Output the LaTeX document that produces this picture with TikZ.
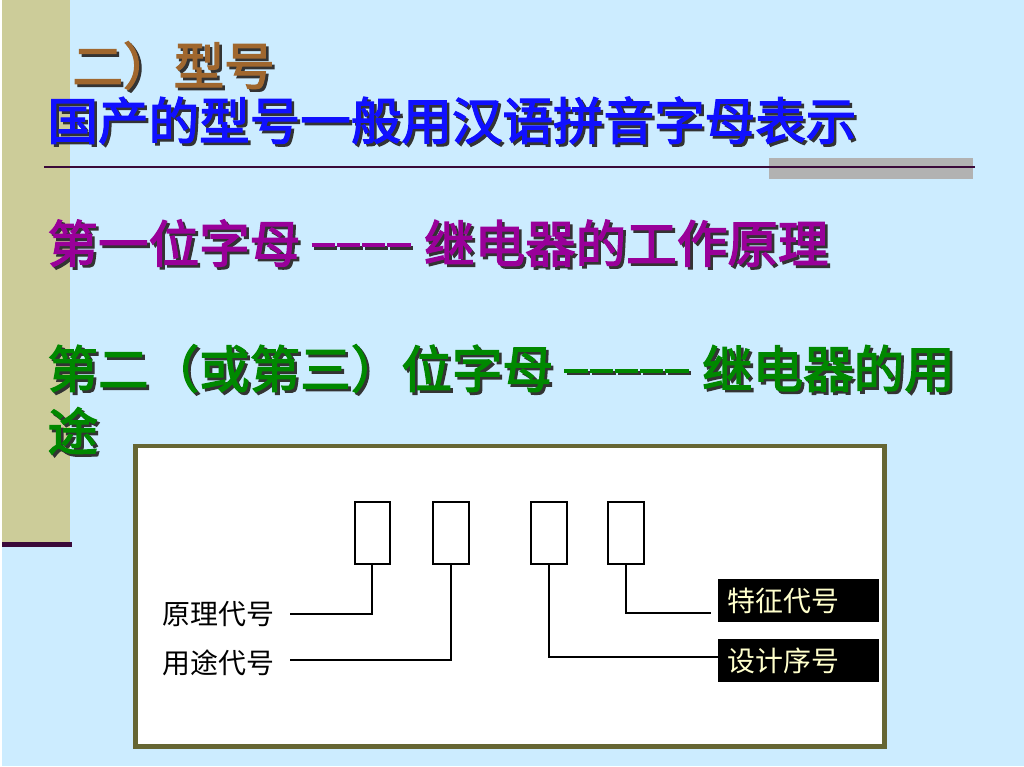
\documentclass[tikz,border=0pt]{standalone}
\usepackage{fontspec}
\newfontfamily\cjk{Noto Sans CJK SC}
\newfontfamily\cjkheavy{Noto Sans CJK SC}[FakeBold=2.5]
\usetikzlibrary{positioning}
\definecolor{skyback}{HTML}{CCECFF}
\definecolor{khaki}{HTML}{CCCC99}
\definecolor{plum}{HTML}{3A0A3A}
\definecolor{bargray}{HTML}{B2B2B2}
\definecolor{titlebrown}{HTML}{A0672E}
\definecolor{headblue}{HTML}{1010FF}
\definecolor{rulepurple}{HTML}{990099}
\definecolor{leafgreen}{HTML}{008800}
\definecolor{olive}{HTML}{666633}
\definecolor{paleyellow}{HTML}{FFFFCC}
% text with a dark drop shadow
\newcommand{\shadowed}[1]{\makebox[0pt][l]{\hspace{2pt}\raisebox{-2pt}{\color{black!80}#1}}#1}
% one long dash of the separators
\newcommand{\sepdash}{\rule[0.3em]{0.46em}{0.08em}\hspace{0.04em}}

\begin{document}
\begin{tikzpicture}[x=0.75pt, y=-0.75pt,
  every node/.style={inner sep=0pt},
  heading/.style={anchor=west, font=\cjkheavy\fontsize{38}{47}\selectfont},
  codebox/.style={draw=black, line width=1.5pt, fill=white,
    minimum width=27pt, minimum height=46.5pt},
  plainlabel/.style={anchor=west, font=\cjk\fontsize{21}{24}\selectfont, text=black},
  darklabel/.style={anchor=west, fill=black, text=paleyellow,
    font=\cjk\fontsize{21}{24}\selectfont, inner xsep=7.5pt,
    text width=105.75pt, minimum height=32.5pt},
  wire/.style={draw=black, line width=1.5pt},
]
  % page
  \fill[skyback] (0,0) rectangle (1024,768);
  \fill[khaki] (0,0) rectangle (68,545);
  \draw[plum, line width=3.5pt] (0,546) -- (70,546);
  \fill[bargray] (768,158) rectangle (973,179);
  \draw[plum, line width=1.5pt] (42,167) -- (975,167);

  % headings
  \node[heading, text=titlebrown] (title) at (70,67) {\shadowed{二）型号}};
  \node[heading, text=headblue] (intro) at (45,122) {\shadowed{国产的型号一般用汉语拼音字母表示}};
  \node[heading, text=rulepurple] (first) at (45,245)
    {\shadowed{第一位字母 \sepdash\sepdash\sepdash\sepdash\ 继电器的工作原理}};
  \node[heading, text=leafgreen, align=left, anchor=north west] (second) at (45,345)
    {\shadowed{第二（或第三）位字母 \sepdash\sepdash\sepdash\sepdash\sepdash\ 继电器的用}\\\shadowed{途}};

  % panel
  \draw[olive, line width=3.75pt, fill=white] (133,447) rectangle (884,748);

  \node[codebox] (box1) at (371,534) {};
  \node[codebox] (box2) at (450,534) {};
  \node[codebox] (box3) at (548,534) {};
  \node[codebox] (box4) at (625,534) {};

  \node[plainlabel] (yuanli) at (160,615) {原理代号};
  \node[plainlabel] (yongtu) at (160,664) {用途代号};
  \node[darklabel] (tezheng) at (717,602) {特征代号};
  \node[darklabel] (sheji) at (717,662) {设计序号};

  \draw[wire] ([shift={(16,0)}]yuanli.east) -| (box1.south);
  \draw[wire] ([shift={(16,-3)}]yongtu.east) -| (box2.south);
  \draw[wire] (box3.south) |- ([shift={(0,-4)}]sheji.west);
  \draw[wire] (box4.south) |- ([shift={(-7,12)}]tezheng.west);
\end{tikzpicture}
\end{document}
